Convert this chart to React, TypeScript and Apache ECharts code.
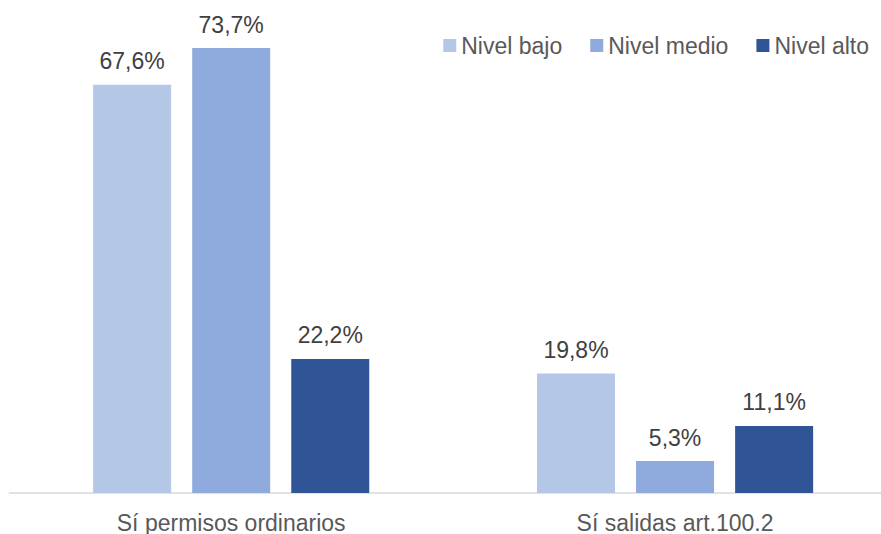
import React, { useEffect, useRef } from "react";
import * as echarts from "echarts";

const categories = ["Sí permisos ordinarios", "Sí salidas art.100.2"];
const seriesNames = ["Nivel bajo", "Nivel medio", "Nivel alto"];
const nivelBajo = [67.6, 19.8];
const nivelMedio = [73.7, 5.3];
const nivelAlto = [22.2, 11.1];
const colors = ["#B4C7E7", "#8FAADC", "#2F5597"];

const FONT = "'Liberation Sans', Arial, sans-serif";
const CHART_W = 897;

export default function App() {
  const ref = useRef<HTMLDivElement>(null);
  useEffect(() => {
    if (!ref.current) return;
    const chart = echarts.init(ref.current, null, { renderer: "svg" });
    const values = [nivelBajo, nivelMedio, nivelAlto];
    chart.setOption({
      animation: false,
      textStyle: { fontFamily: FONT },
      legend: {
        data: seriesNames,
        top: 29,
        right: 7 + (CHART_W - 881),
        itemWidth: 13,
        itemHeight: 13,
        itemGap: 28,
        icon: "rect",
        textStyle: { fontSize: 23, color: "#595959", fontFamily: FONT },
      },
      grid: { left: 9.25, right: 0, top: 10, bottom: 40, containLabel: false },
      xAxis: {
        type: "category",
        data: categories,
        axisLine: { lineStyle: { color: "#D9D9D9", width: 1.5 } },
        axisTick: { show: false },
        axisLabel: { fontSize: 23, color: "#595959", margin: 18, fontFamily: FONT },
      },
      yAxis: {
        type: "value",
        min: 0,
        max: 80,
        show: false,
        splitLine: { show: false },
      },
      series: seriesNames.map((name, i) => ({
        name,
        type: "bar",
        data: values[i],
        barWidth: 78,
        barGap: "27%",
        itemStyle: { color: colors[i] },
        label: {
          show: true,
          position: "top",
          distance: 12,
          fontSize: 23,
          color: "#404040",
          fontFamily: FONT,
          formatter: (p: any) => p.value.toFixed(1).replace(".", ",") + "%",
        },
      })),
    });
    return () => chart.dispose();
  }, []);
  return (
    <div style={{ position: "fixed", left: 0, top: 0, width: 881, height: 534, background: "#fff", overflow: "hidden" }}>
      <div ref={ref} style={{ width: CHART_W, height: 534 }} />
    </div>
  );
}
